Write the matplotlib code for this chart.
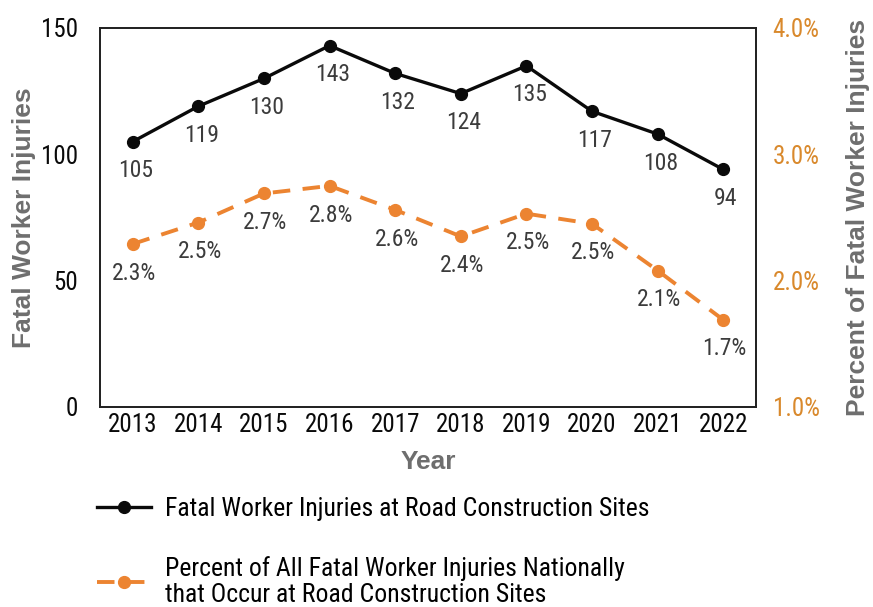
import matplotlib
matplotlib.use("Agg")
import matplotlib.pyplot as plt
from matplotlib.lines import Line2D

years = ["2013", "2014", "2015", "2016", "2017", "2018", "2019", "2020", "2021", "2022"]
fatal = [105, 119, 130, 143, 132, 124, 135, 117, 108, 94]
pct = [2.29, 2.46, 2.69, 2.75, 2.56, 2.35, 2.53, 2.45, 2.08, 1.69]
pct_labels = ["2.3%", "2.5%", "2.7%", "2.8%", "2.6%", "2.4%", "2.5%", "2.5%", "2.1%", "1.7%"]
left_ticks = [0, 50, 100, 150]
right_ticks = [1.0, 2.0, 3.0, 4.0]
right_tick_labels = ["1.0%", "2.0%", "3.0%", "4.0%"]

COND = ["Roboto Condensed", "DejaVu Sans"]
BOLD = ["Liberation Sans", "DejaVu Sans"]
BLACK = "#0a0a0a"
ORANGE = "#EC8431"
ORANGE_TXT = "#D9892C"
GRAY = "#6e6e6e"
LBL = "#3c3c3c"

fig = plt.figure(figsize=(8.73, 6.07), dpi=100)
ax = fig.add_axes([0.1145, 0.3295, 0.7515, 0.6245])
ax2 = ax.twinx()

x = list(range(len(years)))
ax.plot(x, fatal, color=BLACK, lw=2.4, marker="o", ms=8.5, zorder=3)
ax2.plot(x, pct, color=ORANGE, lw=2.8, ls=(0, (4.5, 3.2)), marker="o", ms=8.5, zorder=3)

for xi, v in zip(x, fatal):
    ax.annotate(str(v), (xi, v), xytext=(2, -21), textcoords="offset points",
                ha="center", va="center", fontsize=17, color=LBL, family=COND)
for xi, v, l in zip(x, pct, pct_labels):
    ax2.annotate(l, (xi, v), xytext=(1, -21), textcoords="offset points",
                 ha="center", va="center", fontsize=17, color=LBL, family=COND)

ax.set_xlim(-0.5, 9.5)
ax.set_ylim(0, 150)
ax2.set_ylim(1.0, 4.0)
ax.set_xticks(x)
ax.set_xticklabels(years, fontsize=18, family=COND, color=BLACK)
ax.set_yticks(left_ticks)
ax.set_yticklabels([str(t) for t in left_ticks], fontsize=18, family=COND, color=BLACK)
ax2.set_yticks(right_ticks)
ax2.set_yticklabels(right_tick_labels, fontsize=18, family=COND, color=ORANGE_TXT)
ax.tick_params(axis="both", length=0)
ax.tick_params(axis="y", pad=16)
ax.tick_params(axis="x", pad=4)
ax2.tick_params(axis="y", length=0, pad=12)

for a in (ax, ax2):
    for s in a.spines.values():
        s.set_color("#222222")
        s.set_linewidth(1.3)

ax.set_xlabel("Year", fontsize=19, fontweight="bold", color=GRAY, family=BOLD, labelpad=10)
ax.set_ylabel("Fatal Worker Injuries", fontsize=19, fontweight="bold", color=GRAY, family=BOLD)
ax2.set_ylabel("Percent of Fatal Worker Injuries", fontsize=19, fontweight="bold", color=GRAY,
               family=BOLD)
ax.yaxis.label.set_verticalalignment("center")
ax2.yaxis.label.set_verticalalignment("center")
ax.yaxis.set_label_coords((24 - 100) / 656, 0.5)
ax2.yaxis.set_label_coords((858 - 100) / 656, 0.5)

h1 = Line2D([], [], color=BLACK, lw=2.4, marker="o", ms=8.5)
h2 = Line2D([], [], color=ORANGE, lw=2.8, ls=(0, (4.5, 3.2)), marker="o", ms=8.5)
leg = fig.legend([h1, h2],
           ["Fatal Worker Injuries at Road Construction Sites",
            "Percent of All Fatal Worker Injuries Nationally\nthat Occur at Road Construction Sites"],
           loc="upper left", bbox_to_anchor=(97 / 873, 1 - 497 / 607), frameon=False,
           handlelength=2.1, borderpad=0, borderaxespad=0,
           labelspacing=1.35, prop={"family": COND, "size": 18.5}, handletextpad=0.55)
for t in leg.get_texts():
    t.set_linespacing(1.12)

fig.savefig("out.png", dpi=100)
